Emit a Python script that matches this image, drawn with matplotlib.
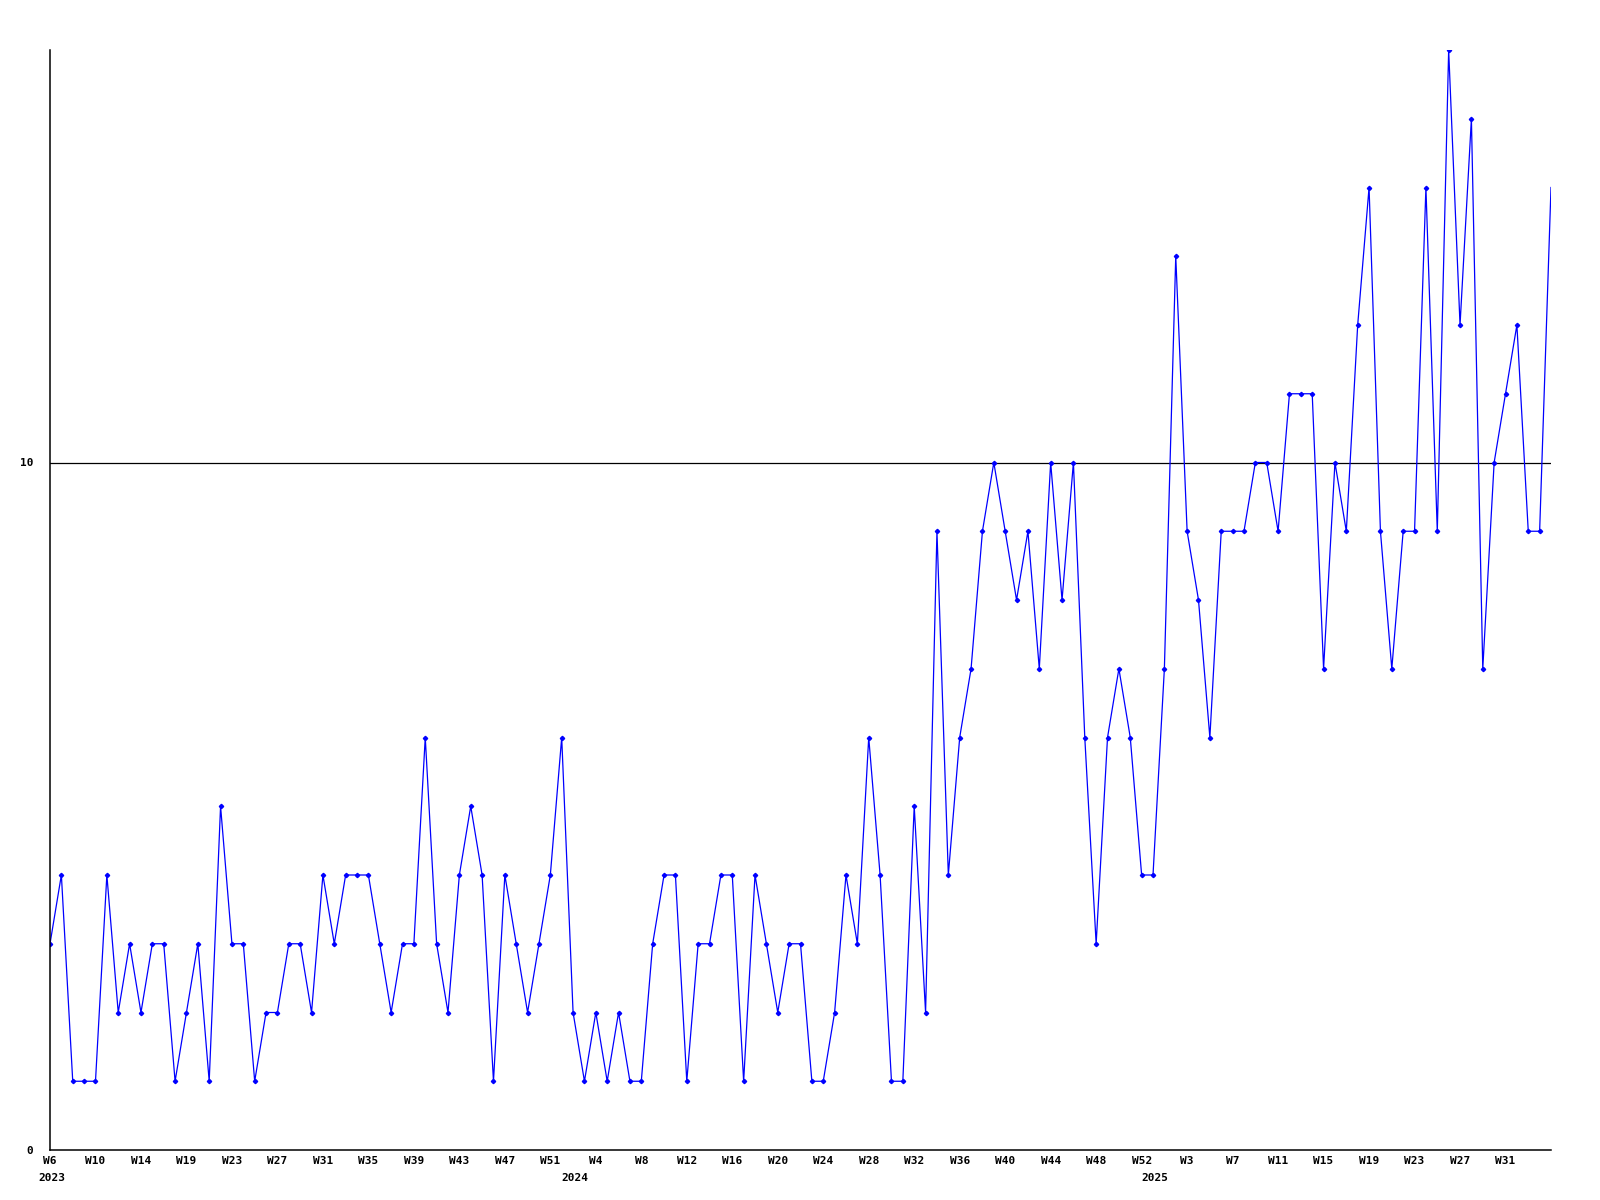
import numpy as np
import matplotlib.pyplot as plt

# weekly counts, 2023 W6 .. 2025 W34
values = [3, 4, 1, 1, 1, 4, 2, 3, 2, 3, 3, 1, 2, 3, 1, 5, 3, 3, 1, 2,
          2, 3, 3, 2, 4, 3, 4, 4, 4, 3, 2, 3, 3, 6, 3, 2, 4, 5, 4, 1,
          4, 3, 2, 3, 4, 6, 2, 1, 2, 1, 2, 1, 1, 3, 4, 4, 1, 3, 3, 4,
          4, 1, 4, 3, 2, 3, 3, 1, 1, 2, 4, 3, 6, 4, 1, 1, 5, 2, 9, 4,
          6, 7, 9, 10, 9, 8, 9, 7, 10, 8, 10, 6, 3, 6, 7, 6, 4, 4, 7, 13,
          9, 8, 6, 9, 9, 9, 10, 10, 9, 11, 11, 11, 7, 10, 9, 12, 14, 9, 7, 9,
          9, 14, 9, 16, 12, 15, 7, 10, 11, 12, 9, 9, 14]

week_labels = ["W6", "W10", "W14", "W19", "W23", "W27", "W31", "W35", "W39",
               "W43", "W47", "W51", "W4", "W8", "W12", "W16", "W20", "W24",
               "W28", "W32", "W36", "W40", "W44", "W48", "W52", "W3", "W7",
               "W11", "W15", "W19", "W23", "W27", "W31"]
years = ["2023", "2024", "2025"]
year_at = [0.2, 46.2, 97.2]  # x index under which the year sits

x = np.arange(len(values))

plt.rcParams['font.family'] = 'DejaVu Sans Mono'
plt.rcParams['font.weight'] = 'bold'

fig = plt.figure(figsize=(16, 12), dpi=100)
ax = fig.add_axes([50 / 1600, 50 / 1200, 1501 / 1600, 1100 / 1200])

ax.axhline(10, color='black', lw=0.9, zorder=1)
ax.plot(x, values, color='#0000ff', lw=0.9, marker='D', ms=2.2,
        markevery=slice(0, len(values) - 1), zorder=2)

ax.set_xlim(0, len(values) - 1)
ax.set_ylim(0, 16)
ax.set_yticks([0, 10])
ax.set_yticklabels(["0", "10"], fontsize=8)
ax.set_xticks(np.arange(0, 4 * len(week_labels), 4))
ax.set_xticklabels(week_labels, fontsize=8)
ax.tick_params(length=0, pad=4)
ax.tick_params(axis='y', pad=12)

for s in ['top', 'right']:
    ax.spines[s].set_visible(False)
for s in ['left', 'bottom']:
    ax.spines[s].set_linewidth(1.1)

for yr, xi in zip(years, year_at):
    ax.text(xi, -0.34, yr, fontsize=8, ha='center', va='top',
            transform=ax.transData, clip_on=False)

fig.savefig('out.png', dpi=100)
